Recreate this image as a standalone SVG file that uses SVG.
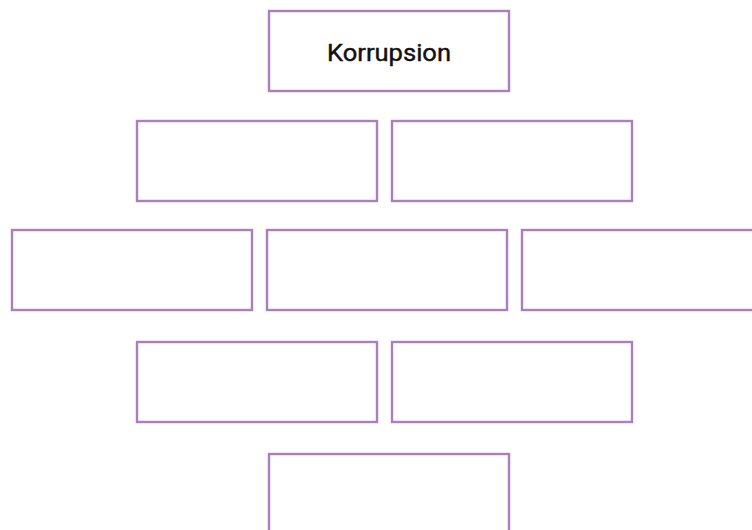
<svg xmlns="http://www.w3.org/2000/svg" width="752" height="530" viewBox="0 0 752 530">
<style>
.box{fill:#ffffff;stroke:#a97fc0;stroke-width:2.4}
.lbl{font-family:Roboto,"Liberation Sans",sans-serif;font-size:23px;font-weight:normal;fill:#111111;text-anchor:middle;dominant-baseline:central}
</style>
<rect width="752" height="530" fill="#ffffff"/>
<g id="connectors"></g>
<g id="n-korrupsion"><rect class="box" x="269" y="11" width="240" height="80"/><text class="lbl" x="389" y="53" textLength="124" lengthAdjust="spacingAndGlyphs" stroke="#111111" stroke-width="0.4">Korrupsion</text></g>
<g id="n-r2a"><rect class="box" x="137" y="121" width="240" height="80"/></g>
<g id="n-r2b"><rect class="box" x="392" y="121" width="240" height="80"/></g>
<g id="n-r3a"><rect class="box" x="12" y="230" width="240" height="80"/></g>
<g id="n-r3b"><rect class="box" x="267" y="230" width="240" height="80"/></g>
<g id="n-r3c"><rect class="box" x="522" y="230" width="240" height="80"/></g>
<g id="n-r4a"><rect class="box" x="137" y="342" width="240" height="80"/></g>
<g id="n-r4b"><rect class="box" x="392" y="342" width="240" height="80"/></g>
<g id="n-r5"><rect class="box" x="269" y="454" width="240" height="80"/></g>
</svg>
